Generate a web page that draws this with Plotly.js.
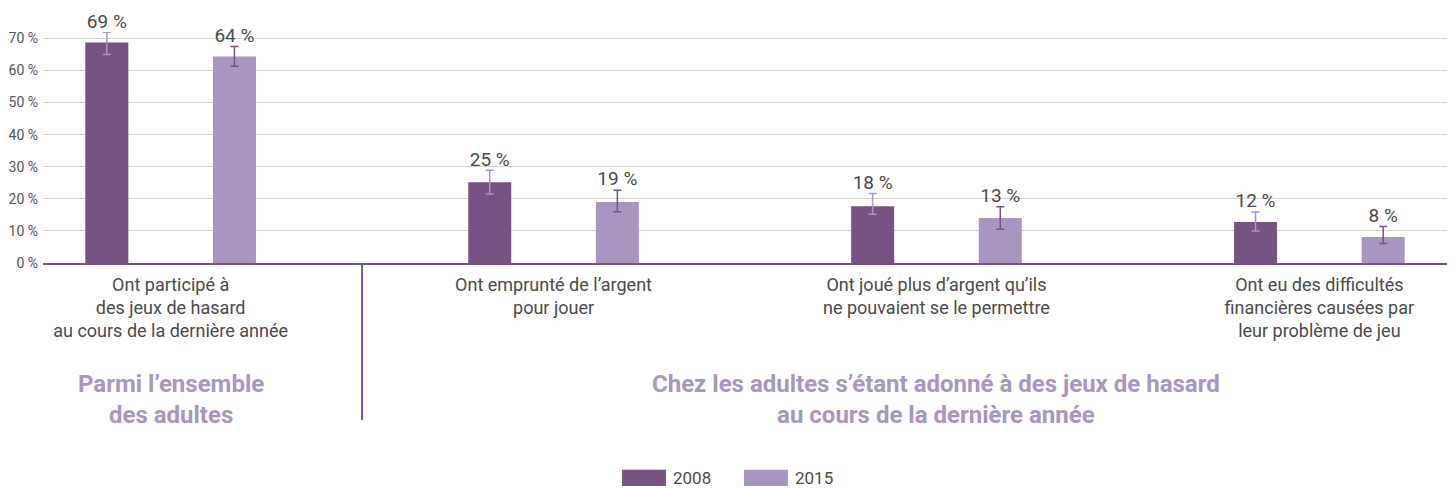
<!DOCTYPE html>
<html>
<head>
<meta charset="utf-8">
<script src="https://cdn.plot.ly/plotly-3.0.1.min.js"></script>
<style>html,body{margin:0;padding:0;background:#fff;}#chart{width:1453px;height:492px;}</style>
</head>
<body>
<div id="chart"></div>
<script>
// ---- data ----
const categories = [
  "Ont participé à<br>des jeux de hasard<br>au cours de la dernière année",
  "Ont emprunté de l’argent<br>pour jouer",
  "Ont joué plus d’argent qu’ils<br>ne pouvaient se le permettre",
  "Ont eu des difficultés<br>financières causées par<br>leur problème de jeu"
];
const years = ["2008", "2015"];
const values2008 = [68.7, 25.2, 17.7, 12.8];
const errPlus2008 = [3.2, 3.7, 4.0, 3.1];
const errMinus2008 = [3.7, 3.7, 2.5, 2.8];
const labels2008 = ["69 %", "25 %", "18 %", "12 %"];
const values2015 = [64.4, 19.0, 14.0, 8.1];
const errPlus2015 = [3.1, 3.7, 3.5, 3.3];
const errMinus2015 = [3.1, 3.0, 3.5, 2.0];
const labels2015 = ["64 %", "19 %", "13 %", "8 %"];
const yTickValues = [0, 10, 20, 30, 40, 50, 60, 70];
const yTickLabels = ["0 %", "10 %", "20 %", "30 %", "40 %", "50 %", "60 %", "70 %"];
const groupTitles = ["Parmi l’ensemble<br>des adultes", "Chez les adultes s’étant adonné à des jeux de hasard<br>au cours de la dernière année"];

// ---- style ----
const FONT = "Roboto, sans-serif";
const C2008 = "#775384";
const C2015 = "#a995c1";
const TXT = "#4a4a4a";

const centers = categories.map((c, i) => 1 + 3 * i);
const x2008 = centers.map(c => c - 0.5);
const x2015 = centers.map(c => c + 0.5);
const BW = 0.337;

const traces = [
  {type: "bar", name: years[0], x: x2008, y: values2008, width: BW, marker: {color: C2008},
   error_y: {type: "data", symmetric: false, array: errPlus2008, arrayminus: errMinus2008, color: C2015, thickness: 1.5, width: 4},
   hoverinfo: "skip", showlegend: false},
  {type: "bar", name: years[1], x: x2015, y: values2015, width: BW, marker: {color: C2015},
   error_y: {type: "data", symmetric: false, array: errPlus2015, arrayminus: errMinus2015, color: C2008, thickness: 1.5, width: 4},
   hoverinfo: "skip", showlegend: false},
  {type: "scatter", mode: "text", x: x2008, y: values2008.map((v, i) => v + errPlus2008[i]), text: labels2008,
   textposition: "top center", textfont: {family: FONT, size: 19, color: TXT}, cliponaxis: false, hoverinfo: "skip", showlegend: false},
  {type: "scatter", mode: "text", x: x2015, y: values2015.map((v, i) => v + errPlus2015[i]), text: labels2015,
   textposition: "top center", textfont: {family: FONT, size: 19, color: TXT}, cliponaxis: false, hoverinfo: "skip", showlegend: false}
];

const layout = {
  width: 1453, height: 492,
  margin: {l: 43, r: 6, t: 31.57, b: 229},
  paper_bgcolor: "#fff", plot_bgcolor: "#fff",
  barmode: "overlay",
  showlegend: false,
  font: {family: FONT, color: TXT},
  xaxis: {range: [0, 11], tickmode: "array", tickvals: centers, ticktext: categories,
          showgrid: false, zeroline: false, showline: true, linecolor: C2008, linewidth: 2,
          ticks: "", tickfont: {family: FONT, size: 18, color: TXT}, ticklabelstandoff: 4, fixedrange: true},
  yaxis: {range: [0, 72], tickmode: "array", tickvals: yTickValues, ticktext: yTickLabels,
          showgrid: true, gridcolor: "#d3d3d3", gridwidth: 1,
          zeroline: false, showline: false, ticks: "", tickfont: {family: FONT, size: 14, color: "#555"},
          ticklabelstandoff: 4, fixedrange: true},
  annotations: [
    {text: "<b>" + groupTitles[0] + "</b>", x: centers[0], xref: "x", y: -0.59, yref: "paper", yanchor: "middle",
     showarrow: false, font: {family: FONT, size: 24, color: C2015}},
    {text: "<b>" + groupTitles[1] + "</b>", x: centers[2], xref: "x", y: -0.59, yref: "paper", yanchor: "middle",
     showarrow: false, font: {family: FONT, size: 24, color: C2015}},
    {text: years[0], x: 0.447, xref: "paper", y: -0.93, yref: "paper", xanchor: "left", yanchor: "middle",
     showarrow: false, font: {family: FONT, size: 17, color: TXT}},
    {text: years[1], x: 0.534, xref: "paper", y: -0.93, yref: "paper", xanchor: "left", yanchor: "middle",
     showarrow: false, font: {family: FONT, size: 17, color: TXT}}
  ],
  shapes: [
    {type: "line", xref: "x", x0: 2.5, x1: 2.5, yref: "paper", y0: 0, y1: -0.68, line: {color: C2008, width: 2}},
    {type: "rect", xref: "paper", yref: "paper", x0: 0.4124, x1: 0.4437, y0: -0.895, y1: -0.965, line: {width: 0}, fillcolor: C2008},
    {type: "rect", xref: "paper", yref: "paper", x0: 0.4993, x1: 0.5306, y0: -0.895, y1: -0.965, line: {width: 0}, fillcolor: C2015}
  ]
};

Plotly.newPlot("chart", traces, layout, {displayModeBar: false, staticPlot: true});
</script>
</body>
</html>
